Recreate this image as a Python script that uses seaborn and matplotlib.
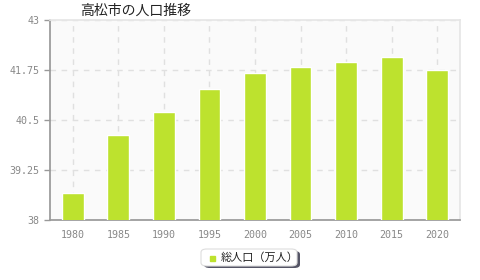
import matplotlib
matplotlib.use("Agg")
import matplotlib.pyplot as plt
import seaborn as sns
import pandas as pd
from matplotlib.patches import FancyBboxPatch

years = ["1980", "1985", "1990", "1995", "2000", "2005", "2010", "2015", "2020"]
population = [38.67, 40.12, 40.70, 41.27, 41.67, 41.82, 41.95, 42.08, 41.75]
yticks = [38, 39.25, 40.5, 41.75, 43]
ytick_labels = ["38", "39.25", "40.5", "41.75", "43"]
title = "高松市の人口推移"
legend_label = "総人口（万人）"

sns.set_theme(style="white")
plt.rcParams['font.family'] = ['Noto Sans CJK JP', 'DejaVu Sans']

df = pd.DataFrame({"year": years, "pop": population})

fig = plt.figure(figsize=(4.8, 2.8), dpi=100)
ax = fig.add_axes([50/480, 60/280, 410/480, 200/280])
ax.set_facecolor("#fafafa")

sns.barplot(data=df, x="year", y="pop", color="#bde22e", saturation=1,
            width=0.48, ax=ax, zorder=3)
ax.set_ylim(38, 43)
ax.set_yticks(yticks)
ax.set_yticklabels(ytick_labels)
ax.set_xlabel("")
ax.set_ylabel("")
ax.grid(True, axis="both", color="#e0e0e0", linestyle=(0, (4, 4)), linewidth=1, zorder=0)
for s in ["top", "right"]:
    ax.spines[s].set_color("#e6e6e6")
for s in ["left", "bottom"]:
    ax.spines[s].set_color("#999999")
ax.tick_params(axis="both", colors="#999999", labelsize=7.2, length=4, width=1,
               labelcolor="#888888", left=True, bottom=False)
for lab in ax.get_xticklabels() + ax.get_yticklabels():
    lab.set_family("DejaVu Sans Mono")

fig.text(80/480, 1 - 11/280, title, fontsize=10, color="#222222", va="center", ha="left")

# legend box with shadow
shadow = FancyBboxPatch((204/480, 1 - 268/280), 96/480, 17/280,
                        boxstyle="round,pad=0,rounding_size=0.012",
                        transform=fig.transFigure, facecolor="#555566",
                        edgecolor="none")
fig.patches.append(shadow)
box = FancyBboxPatch((201/480, 1 - 266/280), 96/480, 17/280,
                     boxstyle="round,pad=0,rounding_size=0.012",
                     transform=fig.transFigure, facecolor="white",
                     edgecolor="#dddddd", linewidth=0.8)
fig.patches.append(box)
fig.patches.append(plt.Rectangle((210/480, 1 - 261/280), 5/480, 5/280,
                                 transform=fig.transFigure, color="#bde22e"))
fig.text(221/480, 1 - 258/280, legend_label, fontsize=8, color="#222222",
         va="center", ha="left")

fig.savefig("out.png", dpi=100)
